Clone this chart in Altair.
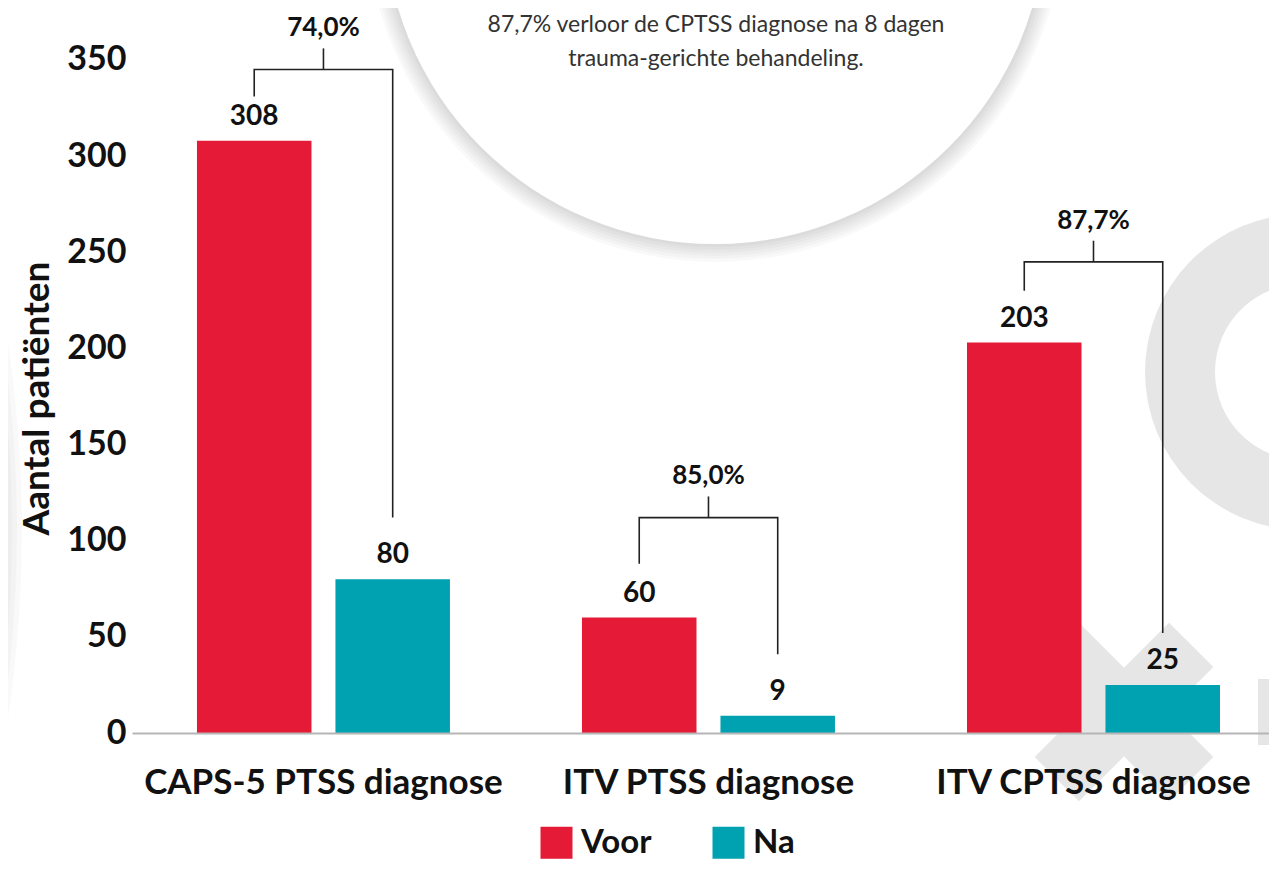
import altair as alt
import pandas as pd

# ---- data ----
categories = ["CAPS-5 PTSS diagnose", "ITV PTSS diagnose", "ITV CPTSS diagnose"]
periods = ["Voor", "Na"]
voor = [308, 60, 203]
na = [80, 9, 25]
pct_labels = ["74,0%", "85,0%", "87,7%"]
# bracket annotation levels (in patient counts)
bracket_top = [345, 112, 245]
bracket_voor_end = [331, 88, 230]
bracket_na_end = [112, 41, 52]
bubble_lines = ["87,7% verloor de CPTSS diagnose na 8 dagen", "trauma-gerichte behandeling."]
colors = ["#E41A37", "#00A2B2"]

FONT = "Lato"
INK = "#111111"
DECO = "#e6e6e6"
W, H = 1137, 725

bars_df = pd.DataFrame({
    "cat": categories * 2,
    "periode": ["Voor"] * len(categories) + ["Na"] * len(categories),
    "n": voor + na,
})

rows = []
for c, t, ve, ne in zip(categories, bracket_top, bracket_voor_end, bracket_na_end):
    rows += [
        {"cat": c, "periode": "Voor", "y": ve, "o": 0},
        {"cat": c, "periode": "Voor", "y": t, "o": 1},
        {"cat": c, "periode": "Na", "y": t, "o": 2},
        {"cat": c, "periode": "Na", "y": ne, "o": 3},
    ]
bracket_df = pd.DataFrame(rows)
pct_df = pd.DataFrame({"cat": categories, "top": bracket_top, "label": pct_labels})

x_scale = alt.Scale(domain=categories, paddingInner=0.3429, paddingOuter=0.148, align=0.57)
off_scale = alt.Scale(domain=periods, paddingInner=0.173, paddingOuter=0)
y_scale = alt.Scale(domain=[0, 377], nice=False, zero=True)


def one():
    return alt.Data(values=[{"k": 0}])


def disc(cx, cy, r, fill, opacity=1.0, r_inner=None):
    kw = dict(radius=r, theta=0, theta2=6.2832, fill=fill, opacity=opacity, strokeWidth=0)
    if r_inner is not None:
        kw["radius2"] = r_inner
    return alt.Chart(one()).mark_arc(**kw).encode(x=alt.value(cx), y=alt.value(cy))


deco = []
# soft grey shading at the far left
for i in range(6):
    deco.append(disc(-1376, 522, 1266 - i * 5, "#000000", 0.025))
# shadow + white bubble at the top
for i in range(6, 0, -1):
    deco.append(disc(583, -95, 331 + i * 3, "#000000", 0.022))
deco.append(disc(583, -95, 331, "#ffffff"))
# grey logo pieces at the right
deco.append(disc(1171, 364, 158, DECO, 1.0, 88))
plus_path = ("M-0.33,-1 L0.33,-1 L0.33,-0.33 L1,-0.33 L1,0.33 L0.33,0.33 L0.33,1 "
             "L-0.33,1 L-0.33,0.33 L-1,0.33 L-1,-0.33 L-0.33,-0.33 Z")
deco.append(
    alt.Chart(one()).mark_point(shape=plus_path, size=36100, angle=45, filled=True,
                                fill=DECO, opacity=1, strokeWidth=0)
    .encode(x=alt.value(992), y=alt.value(704))
)
deco.append(
    alt.Chart(one()).mark_rect(fill=DECO)
    .encode(x=alt.value(1126), x2=alt.value(1150), y=alt.value(671), y2=alt.value(737))
)
for i, line in enumerate(bubble_lines):
    deco.append(
        alt.Chart(one()).mark_text(text=line, font=FONT, fontSize=23, color="#333333",
                                   align="center", baseline="middle")
        .encode(x=alt.value(584), y=alt.value(17 + i * 34))
    )

x_enc = alt.X("cat:N", scale=x_scale, sort=categories,
              axis=alt.Axis(title=None, labelFont=FONT, labelFontSize=35, labelFontWeight="bold",
                            labelColor=INK, labelPadding=32, ticks=False, tickSize=0,
                            domain=True, domainColor="#b5b5b5", domainWidth=2,
                            labelLimit=600, labelAngle=0, grid=False, zindex=1))
y_enc = alt.Y("n:Q", scale=y_scale,
              axis=alt.Axis(values=[0, 50, 100, 150, 200, 250, 300, 350], labelFont=FONT,
                            labelFontSize=34, labelFontWeight="bold", labelColor=INK,
                            labelPadding=6, ticks=False, domain=False, grid=False,
                            title="Aantal patiënten", titleFont=FONT, titleFontSize=37,
                            titleFontWeight="bold", titleColor=INK, titleX=-95, titleY=390,
                            titleAngle=270, titleAlign="center", titleBaseline="middle",
                            zindex=1))
off_enc = alt.XOffset("periode:N", scale=off_scale, sort=periods)

bars = alt.Chart(bars_df).mark_bar().encode(
    x=x_enc,
    xOffset=off_enc,
    y=y_enc,
    color=alt.Color("periode:N", scale=alt.Scale(domain=periods, range=colors), sort=periods,
                    legend=alt.Legend(title=None, orient="none", legendX=408, legendY=818,
                                      direction="horizontal", symbolType="square",
                                      symbolSize=1024, symbolStrokeWidth=0, symbolOpacity=1,
                                      labelFont=FONT, labelFontSize=33, labelFontWeight="bold",
                                      labelColor=INK, labelOffset=8, columnPadding=60)),
)

values = alt.Chart(bars_df).mark_text(font=FONT, fontSize=28, fontWeight="bold", color=INK,
                                      baseline="middle", dy=-24).encode(
    x=alt.X("cat:N", scale=x_scale, sort=categories),
    xOffset=off_enc,
    y=alt.Y("n:Q", scale=y_scale),
    text="n:Q",
)

brackets = alt.Chart(bracket_df).mark_line(color="#222222", strokeWidth=1.6).encode(
    x=alt.X("cat:N", scale=x_scale, sort=categories),
    xOffset=off_enc,
    y=alt.Y("y:Q", scale=y_scale),
    detail="cat:N",
    order="o:Q",
)

ticks = alt.Chart(pct_df).transform_calculate(top2="datum.top + 11").mark_rule(
    color="#222222", strokeWidth=1.6).encode(
    x=alt.X("cat:N", scale=x_scale, sort=categories),
    y=alt.Y("top:Q", scale=y_scale),
    y2="top2:Q",
)

pcts = alt.Chart(pct_df).transform_calculate(top2="datum.top + 11").mark_text(
    font=FONT, fontSize=26, fontWeight="bold", color=INK, baseline="middle", dy=-20).encode(
    x=alt.X("cat:N", scale=x_scale, sort=categories),
    y=alt.Y("top2:Q", scale=y_scale),
    text="label:N",
)

chart = alt.layer(*deco, bars, values, brackets, ticks, pcts).properties(
    width=W, height=H,
    autosize=alt.AutoSizeParams(type="none"),
    padding={"left": 124, "top": 0, "right": 0, "bottom": 128},
    background="white",
).configure_view(stroke=None)

chart.save("out.html", embed_options={"renderer": "svg", "actions": False})
